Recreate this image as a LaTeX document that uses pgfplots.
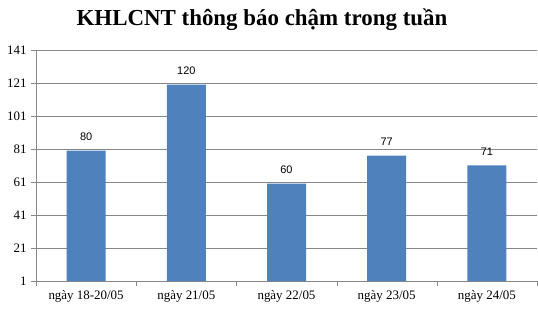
\documentclass[border=0pt]{standalone}
\usepackage{pgfplots}
\pgfplotsset{compat=1.18}
\usepackage{fontspec}
\setmainfont{Liberation Serif}
\newfontfamily\arial{Liberation Sans}
\definecolor{barblue}{HTML}{4F81BD}
\definecolor{gridgray}{HTML}{878787}
\begin{document}
\begin{tikzpicture}[x=1bp,y=1bp]
\begin{axis}[
  scale only axis,
  width=501bp, height=231bp,
  at={(0,0)}, anchor=south west,
  ymin=1, ymax=141,
  ytick={1,21,41,61,81,101,121,141},
  xmin=-0.5, xmax=4.5,
  xtick={0,1,2,3,4},
  xticklabels={ngày 18-20/05, ngày 21/05, ngày 22/05, ngày 23/05, ngày 24/05},
  minor xtick={-0.5,0.5,1.5,2.5,3.5,4.5},
  major x tick style={draw=none},
  minor x tick style={gridgray},
  tick align=outside,
  major tick length=5bp, minor tick length=5bp,
  y tick style={gridgray},
  ymajorgrids,
  grid style={gridgray, line width=0.8pt},
  axis x line*=bottom, axis y line*=left,
  axis line style={gridgray, line width=0.8pt, -},
  /pgf/number format/assume math mode=true,
  yticklabel style={font=\fontsize{13}{15}\selectfont, xshift=-1bp},
  xticklabel style={font=\fontsize{13}{15}\selectfont, yshift=-1bp},
  ybar, bar width=39bp,
  nodes near coords,
  every node near coord/.append style={font=\arial\fontsize{11}{13}\selectfont, yshift=6.5bp, black},
  clip=false,
]
\addplot[fill=barblue, draw=none] coordinates {(0,80) (1,120) (2,60) (3,77) (4,71)};
\end{axis}
\node[font=\bfseries\fontsize{23}{26}\selectfont] at (226bp,261bp) {KHLCNT thông báo chậm trong tuần};
\pgfresetboundingbox
\path[use as bounding box] (-36bp,-28bp) rectangle (502bp,281bp);
\end{tikzpicture}
\end{document}
